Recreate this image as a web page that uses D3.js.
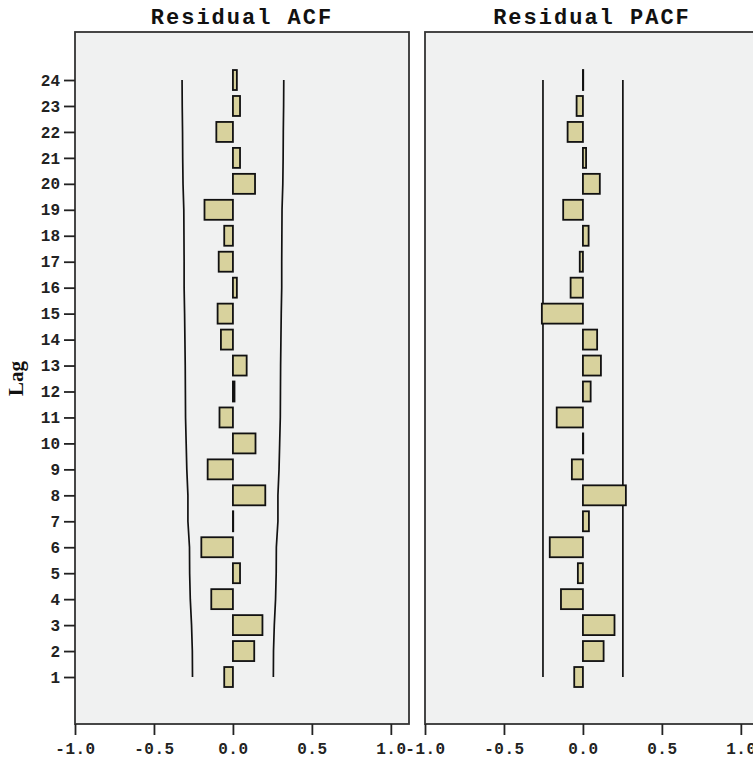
<!DOCTYPE html>
<html><head><meta charset="utf-8">
<script src="https://cdn.jsdelivr.net/npm/d3@7"></script>
<style>
body{margin:0;background:#fff;}
svg{display:block;}
</style></head>
<body>
<svg id="c" width="753" height="761"></svg>
<script>
const lags = d3.range(1, 25);
const acf = [-0.055, 0.135, 0.187, -0.137, 0.045, -0.2, 0.002, 0.205, -0.16, 0.143,
             -0.085, 0.01, 0.087, -0.076, -0.097, 0.025, -0.09, -0.055, -0.18, 0.14,
             0.045, -0.105, 0.045, 0.025];
const acfLimit = [0.256, 0.257, 0.262, 0.270, 0.274, 0.275, 0.285, 0.285, 0.292, 0.296,
                  0.300, 0.301, 0.302, 0.304, 0.306, 0.309, 0.309, 0.310, 0.311, 0.316,
                  0.318, 0.319, 0.321, 0.322];
const pacf = [-0.055, 0.131, 0.2, -0.139, -0.032, -0.21, 0.038, 0.272, -0.07, 0.002,
              -0.166, 0.049, 0.114, 0.09, -0.26, -0.078, -0.02, 0.036, -0.125, 0.107,
              0.02, -0.097, -0.04, 0.002];
const pacfLimit = [0.253];
const xTicks = [-1, -0.5, 0, 0.5, 1];
const titles = ["Residual ACF", "Residual PACF"];

const svg = d3.select("#c");
const plotTop = 32, plotBottom = 724;
const y = d3.scaleLinear().domain([-0.81, 25.85]).range([plotBottom, plotTop]);
const step = y(1) - y(2);
const barH = step * 0.77;
const fill = "#d8d29d";
const mono = "'Liberation Mono', 'DejaVu Sans Mono', monospace";

function fmt(v){ return (v < 0 ? "-" : "") + Math.abs(v).toFixed(1); }

function panel(x0, values, limits, title, constLimit){
  const x = d3.scaleLinear().domain([-1, 1.115]).range([x0, x0 + 334]);
  const g = svg.append("g");
  g.append("rect").attr("x", x.range()[0]).attr("y", plotTop)
    .attr("width", x.range()[1] - x.range()[0]).attr("height", plotBottom - plotTop)
    .attr("fill", "#f0f1f1").attr("stroke", "#333").attr("stroke-width", 1.8);

  const xa = g.append("g").attr("transform", `translate(0,${plotBottom})`)
    .call(d3.axisBottom(x).tickValues(xTicks).tickSize(11).tickPadding(8).tickFormat(fmt));
  xa.select(".domain").remove();
  xa.selectAll(".tick line").attr("stroke", "#222").attr("stroke-width", 1.8);
  xa.selectAll("text").attr("fill", "#222")
    .style("font-family", mono).style("font-weight", "bold")
    .style("font-size", "16px").style("letter-spacing", "0.5px");

  const line = d3.line().x(d => x(d[0])).y(d => y(d[1]));
  let lo, hi;
  if (constLimit) {
    lo = [[-limits[0], 1], [-limits[0], 24]];
    hi = [[limits[0], 1], [limits[0], 24]];
  } else {
    lo = lags.map((l, i) => [-limits[i], l]);
    hi = lags.map((l, i) => [limits[i], l]);
  }
  [lo, hi].forEach(p => g.append("path").attr("d", line(p)).attr("fill", "none")
    .attr("stroke", "#111").attr("stroke-width", 1.7));

  g.selectAll(".bar").data(values).join("rect").attr("class", "bar")
    .attr("x", d => Math.min(x(0), x(d)))
    .attr("width", d => Math.abs(x(d) - x(0)))
    .attr("y", (d, i) => y(lags[i]) - barH / 2)
    .attr("height", barH)
    .attr("fill", fill).attr("stroke", "#111").attr("stroke-width", 1.8);

  const cx = (x.range()[0] + x.range()[1]) / 2;
  g.append("text").attr("x", cx).attr("y", 24).attr("text-anchor", "middle")
    .style("font-family", mono).style("font-weight", "bold")
    .style("font-size", "22px").style("letter-spacing", "2px").attr("fill", "#111")
    .text(title);
  return x;
}

panel(75, acf, acfLimit, titles[0], false);
panel(425, pacf, pacfLimit, titles[1], true);

const ya = svg.append("g").attr("transform", "translate(75,0)")
  .call(d3.axisLeft(y).tickValues(lags).tickSize(11).tickPadding(4).tickFormat(d3.format("d")));
ya.select(".domain").remove();
ya.selectAll(".tick line").attr("stroke", "#222").attr("stroke-width", 1.8);
ya.selectAll("text").attr("fill", "#222")
  .style("font-family", mono).style("font-weight", "bold")
  .style("font-size", "16px");

svg.append("text").attr("transform", `translate(23,${y(12.5)}) rotate(-90)`)
  .attr("text-anchor", "middle")
  .style("font-family", "'Liberation Serif', serif").style("font-weight", "bold")
  .style("font-size", "21px").attr("fill", "#111").text("Lag");
</script>
</body></html>
